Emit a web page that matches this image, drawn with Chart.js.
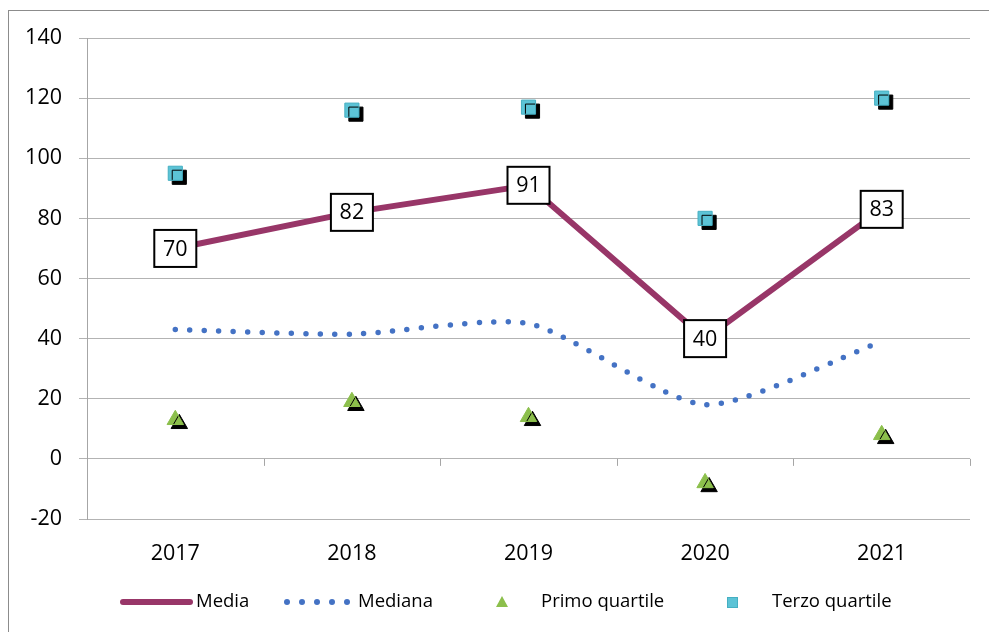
<!DOCTYPE html>
<html>
<head>
<meta charset="utf-8">
<script src="https://cdn.jsdelivr.net/npm/chart.js@4.4.1/dist/chart.umd.min.js"></script>
<style>
  html, body { margin: 0; padding: 0; background: #fff; }
  #wrap { width: 989px; height: 632px; }
</style>
</head>
<body>
<div id="wrap"><canvas id="myChart" width="989" height="632"></canvas></div>
<script>
let anni = ["2017", "2018", "2019", "2020", "2021"];
let media = [70, 82, 91, 40, 83];
let mediana = [43, 41.5, 45, 18, 39];
let primoQuartile = [13, 19, 14, -8, 8];
let terzoQuartile = [95, 116, 117, 80, 120];
let yTicks = [-20, 0, 20, 40, 60, 80, 100, 120, 140];

let fontName = "'Open Sans', 'Noto Sans', sans-serif";
let coloreMedia = "#983668";
let coloreMediana = "#4472C4";
let colorePrimo = "#8CBF4C";
let coloreTerzo = "#5CC3D6";

// ombra nera sotto i marker dei quartili
const ombraPlugin = {
    id: "ombra",
    beforeDatasetDraw(chart, args) {
        if (args.index < 2) return;
        let ctx = chart.ctx;
        ctx.save();
        ctx.shadowColor = "#000";
        ctx.shadowBlur = 0;
        ctx.shadowOffsetX = 4;
        ctx.shadowOffsetY = 4;
    },
    afterDatasetDraw(chart, args) {
        if (args.index < 2) return;
        chart.ctx.restore();
    }
};

// asse x all'altezza dello zero, etichette della media, legenda e cornice
const extraPlugin = {
    id: "extra",
    afterDatasetsDraw(chart) {
        let ctx = chart.ctx;
        let area = chart.chartArea;
        let x = chart.scales.x;
        let y = chart.scales.y;
        let y0 = y.getPixelForValue(0);

        ctx.save();
        ctx.strokeStyle = "#A6A6A6";
        ctx.lineWidth = 1;
        ctx.beginPath();
        for (let i = 0; i <= anni.length; i++) {
            let px;
            if (i == 0) px = area.left;
            else if (i == anni.length) px = area.right;
            else px = (x.getPixelForValue(i - 1) + x.getPixelForValue(i)) / 2;
            px = Math.round(px) + 0.5;
            ctx.moveTo(px, y0);
            ctx.lineTo(px, y0 + 7);
        }
        ctx.stroke();

        // etichette della media
        let meta = chart.getDatasetMeta(0);
        ctx.font = "21.5px " + fontName;
        ctx.textAlign = "center";
        ctx.textBaseline = "middle";
        meta.data.forEach((pt, i) => {
            let w = 42, h = 37;
            ctx.fillStyle = "#fff";
            ctx.fillRect(pt.x - w / 2, pt.y - h / 2, w, h);
            ctx.strokeStyle = "#000";
            ctx.lineWidth = 2;
            ctx.strokeRect(pt.x - w / 2, pt.y - h / 2, w, h);
            ctx.fillStyle = "#000";
            ctx.fillText(String(media[i]), pt.x, pt.y + 1);
        });

        // legenda
        let ly = 602;
        ctx.font = "18.5px " + fontName;
        ctx.textAlign = "left";
        ctx.fillStyle = "#000";

        ctx.strokeStyle = coloreMedia;
        ctx.lineWidth = 6;
        ctx.lineCap = "round";
        ctx.beginPath();
        ctx.moveTo(123, ly);
        ctx.lineTo(190, ly);
        ctx.stroke();
        ctx.fillText("Media", 196, ly);

        ctx.fillStyle = coloreMediana;
        [287, 302, 317, 332, 347].forEach((dx) => {
            ctx.beginPath();
            ctx.arc(dx, ly, 3, 0, Math.PI * 2);
            ctx.fill();
        });
        ctx.fillStyle = "#000";
        ctx.fillText("Mediana", 358, ly);

        ctx.fillStyle = colorePrimo;
        ctx.beginPath();
        ctx.moveTo(502, ly - 6);
        ctx.lineTo(508, ly + 5);
        ctx.lineTo(496, ly + 5);
        ctx.closePath();
        ctx.fill();
        ctx.fillStyle = "#000";
        ctx.fillText("Primo quartile", 541, ly);

        ctx.fillStyle = coloreTerzo;
        ctx.fillRect(727, ly - 5, 11, 11);
        ctx.strokeStyle = "#45AFC2";
        ctx.lineWidth = 1;
        ctx.strokeRect(727.5, ly - 4.5, 10, 10);
        ctx.fillStyle = "#000";
        ctx.fillText("Terzo quartile", 772, ly);

        // cornice
        ctx.strokeStyle = "#8C8C8C";
        ctx.lineWidth = 1;
        ctx.strokeRect(8.5, 10.5, 990, 640);
        ctx.restore();
    }
};

let data = {
    labels: anni,
    datasets: [
        {
            label: "Media",
            data: media,
            borderColor: coloreMedia,
            backgroundColor: coloreMedia,
            borderWidth: 6,
            pointRadius: 0,
            tension: 0,
            order: 1
        },
        {
            label: "Mediana",
            data: mediana,
            borderColor: coloreMediana,
            backgroundColor: coloreMediana,
            borderWidth: 5.5,
            borderDash: [0, 14.5],
            borderCapStyle: "round",
            pointRadius: 0,
            tension: 0.22,
            order: 2
        },
        {
            label: "Primo quartile",
            data: primoQuartile,
            showLine: false,
            pointStyle: "triangle",
            pointRadius: 9.5,
            pointBackgroundColor: colorePrimo,
            pointBorderColor: colorePrimo,
            pointBorderWidth: 1,
            order: 3
        },
        {
            label: "Terzo quartile",
            data: terzoQuartile,
            showLine: false,
            pointStyle: "rect",
            pointRadius: 10,
            pointBackgroundColor: coloreTerzo,
            pointBorderColor: "#45AFC2",
            pointBorderWidth: 1,
            order: 4
        }
    ]
};

const config = () => {
    var myChart = new Chart(document.getElementById("myChart"), {
        type: "line",
        data: data,
        plugins: [ombraPlugin, extraPlugin],
        options: {
            responsive: false,
            animation: false,
            layout: { padding: { left: 8, right: 19, top: 38, bottom: 53 } },
            plugins: {
                legend: { display: false },
                tooltip: { enabled: false }
            },
            scales: {
                x: {
                    offset: true,
                    grid: { display: false },
                    border: { display: false },
                    ticks: {
                        color: "#000",
                        padding: 14,
                        font: { family: fontName, size: 21.5 }
                    },
                    afterFit: (scale) => { scale.height = 60; }
                },
                y: {
                    min: -20,
                    max: 140,
                    afterBuildTicks: (scale) => {
                        scale.ticks = yTicks.map((v) => ({ value: v }));
                    },
                    grid: {
                        color: "#B3B3B3",
                        lineWidth: 1,
                        tickLength: 8
                    },
                    border: { display: true, color: "#A6A6A6", width: 1 },
                    ticks: {
                        color: "#000",
                        padding: 17,
                        font: { family: fontName, size: 21.5 }
                    },
                    afterFit: (scale) => { scale.width = 79; }
                }
            }
        }
    });
};

config();
</script>
</body>
</html>
